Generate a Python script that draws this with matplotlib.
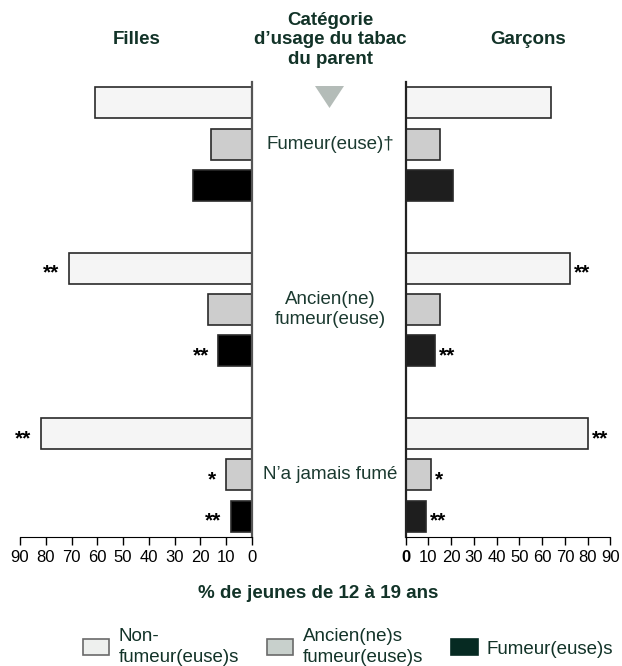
import numpy as np
import matplotlib.pyplot as plt
from matplotlib.patches import Patch, Polygon
from matplotlib.transforms import blended_transform_factory

plt.rcParams['font.family'] = ['Liberation Sans Narrow', 'Liberation Sans', 'DejaVu Sans']
FONTSIZE = 13.5
TICKSIZE = 12
GREEN = "#123328"

# parent smoking category (one group of bars each)
groups = ["Fumeur(euse)\u2020", "Ancien(ne)\nfumeur(euse)", "N\u2019a jamais fum\u00e9"]
series = ["Non-\nfumeur(euse)s", "Ancien(ne)s\nfumeur(euse)s", "Fumeur(euse)s"]

# % of youth 12-19, per parent group
filles_non = [61, 71, 82]
filles_ancien = [16, 17, 10]
filles_fumeur = [23, 13, 8]
garcons_non = [64, 72, 80]
garcons_ancien = [15, 15, 11]
garcons_fumeur = [21, 13, 9]

# significance marks
sig_non = ["", "**", "**"]
sig_ancien = ["", "", "*"]
sig_fumeur = ["", "**", "**"]

ticks = [0, 10, 20, 30, 40, 50, 60, 70, 80, 90]

fig = plt.figure(figsize=(6.22, 6.66), dpi=100)
W, H = 622, 666
axL = fig.add_axes([20 / W, 1 - 537 / H, 232 / W, 455 / H])
axR = fig.add_axes([405.5 / W, 1 - 537 / H, 205 / W, 455 / H])


def draw(ax, data, fumeur_color, side):
	for k, (vals, sig, fc) in enumerate(zip(data, [sig_non, sig_ancien, sig_fumeur],
											["#f5f5f5", "#cdcdcd", fumeur_color])):
		for g in range(3):
			y = 4 * g + k
			ax.barh(y, vals[g], height=0.75, color=fc, edgecolor="#2a2a2a", linewidth=1.2)
			if sig[g]:
				off = -7 if side == "L" else 3
				ax.annotate(sig[g], (vals[g], y), xytext=(off, -3.5), textcoords="offset points",
							ha="right" if side == "L" else "left", va="center",
							fontsize=15, fontweight="bold", color="black")
	ax.set_ylim(10.5, -0.5)
	ax.set_yticks([])
	ax.set_xticks(ticks)
	ax.tick_params(axis="x", direction="out", length=6, width=1, pad=3, labelsize=TICKSIZE)
	ax.spines["top"].set_visible(False)
	ax.patch.set_visible(False)


draw(axL, [filles_non, filles_ancien, filles_fumeur], "#000000", "L")
axL.set_xlim(90, 0)
axL.spines["left"].set_visible(False)
axL.spines["right"].set_color("#555555")
axL.spines["right"].set_linewidth(1.6)

draw(axR, [garcons_non, garcons_ancien, garcons_fumeur], "#1e1e1e", "R")
axR.set_xlim(0, 90)
axR.spines["right"].set_visible(False)
axR.spines["left"].set_color("#222222")
axR.spines["left"].set_linewidth(1.6)
axR.get_xticklabels()[0].set_fontweight("bold")

# headers
fig.text(137 / W, 1 - 40 / H, "Filles", ha="center", va="center", fontsize=FONTSIZE,
		 fontweight="bold", color=GREEN)
fig.text(528 / W, 1 - 40 / H, "Gar\u00e7ons", ha="center", va="center", fontsize=FONTSIZE,
		 fontweight="bold", color=GREEN)
fig.text(330 / W, 1 - 40 / H, "Cat\u00e9gorie\nd\u2019usage du tabac\ndu parent", ha="center",
		 va="center", fontsize=FONTSIZE, fontweight="bold", color=GREEN, linespacing=1.2)
fig.add_artist(Polygon([[315 / W, 1 - 86 / H], [344 / W, 1 - 86 / H], [329.5 / W, 1 - 108 / H]],
					   closed=True, transform=fig.transFigure, color="#b4bcb8", lw=0))

# category labels in the middle
tr = blended_transform_factory(fig.transFigure, axL.transData)
for g, name in enumerate(groups):
	fig.text(330 / W, 4 * g + 1, name, transform=tr, ha="center", va="center",
			 fontsize=FONTSIZE, color="#1b3a30", linespacing=1.3)

fig.text(318 / W, 1 - 593 / H, "% de jeunes de 12 \u00e0 19 ans", ha="center", va="center",
		 fontsize=FONTSIZE, fontweight="bold", color=GREEN)

handles = [Patch(facecolor="#eef0ee", edgecolor="#6a6a6a", lw=1.2),
		   Patch(facecolor="#c8d0cc", edgecolor="#6a6a6a", lw=1.2),
		   Patch(facecolor="#062a22", edgecolor="#062a22", lw=1.2)]
leg = fig.legend(handles, series, loc="center left", bbox_to_anchor=(83 / W, 1 - 647 / H),
				 ncol=3, frameon=False, fontsize=FONTSIZE, handlelength=1.4, handleheight=1.0,
				 handletextpad=0.5, columnspacing=1.5, borderpad=0, borderaxespad=0,
				 labelspacing=0)
for t in leg.get_texts():
	t.set_color(GREEN)
	t.set_linespacing(1.35)

plt.savefig("out.png", dpi=100)
